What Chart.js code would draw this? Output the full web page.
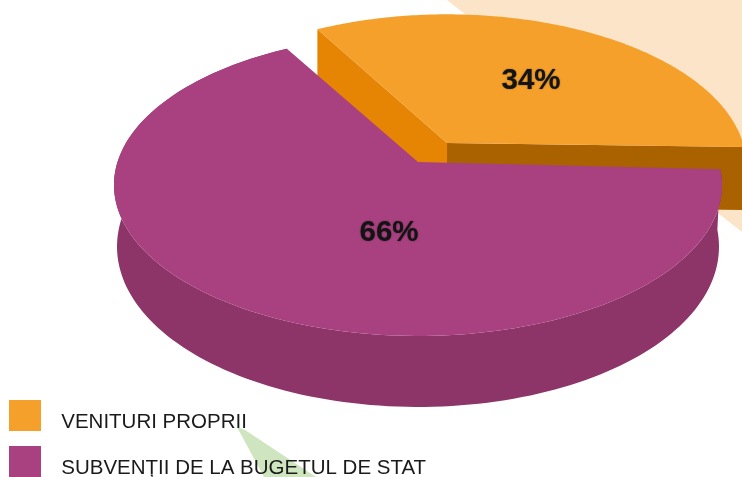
<!DOCTYPE html>
<html><head><meta charset="utf-8">
<style>html,body{margin:0;padding:0;background:#fff}canvas{display:block}</style>
<script src="https://cdn.jsdelivr.net/npm/chart.js@4"></script>
</head><body><canvas id="c" width="742" height="477"></canvas>
<script>
const categories = ['VENITURI PROPRII', 'SUBVENȚII DE LA BUGETUL DE STAT'];
const shares = [34, 66];
const topColors = ['#F5A02B', '#A94080'];

// Perspective of the disc
const P = 0.152, A = 147.5, B = 300.5;
const project = (a, cx, cy, kx, ky, bottom) => {
  const u = Math.cos(a), v = Math.sin(a), w = 1 - P * v;
  const s = bottom ? 0.99 : 1;
  return [cx + kx * s * B * u / w, cy + ky * A * v / w + (bottom ? 60 + 11 * v : 0)];
};
const rim = (ctx, a0, a1, cx, cy, kx, ky, bottom) => {
  const n = 160;
  for (let i = 0; i <= n; i++) {
    const p = project(a0 + (a1 - a0) * i / n, cx, cy, kx, ky, bottom);
    ctx.lineTo(p[0], p[1]);
  }
};
const poly = (ctx, pts, color) => {
  ctx.beginPath();
  pts.forEach(p => ctx.lineTo(p[0], p[1]));
  ctx.closePath();
  ctx.fillStyle = color;
  ctx.fill();
};

// Legend swatch: a small picture whose coloured square sits above the text line
const swatch = color => {
  const c = document.createElement('canvas');
  c.width = 42; c.height = 45;
  const g = c.getContext('2d');
  g.fillStyle = color;
  g.fillRect(0, 0, 32, 31);
  return c;
};

const backdrop = {
  id: 'backdrop',
  beforeDraw(chart) {
    const ctx = chart.ctx;
    poly(ctx, [[447,0],[742,0],[742,232]], '#FCE4C8');
    poly(ctx, [[237,427],[245,430],[316,477],[264,477]], '#CFE5BF');
  }
};

const pie3d = {
  id: 'pie3d',
  beforeDatasetsDraw(chart) {
    const ctx = chart.ctx;
    const [orange, purple] = chart.getDatasetMeta(0).data;
    const ax = 447, ay = 143, kx = 0.985, ky = 1.005;   // detached slice
    const cx = 418, cy = 162;
    const oa0 = orange.startAngle - 0.002, oa1 = orange.endAngle - 0.022;

    // detached slice: its two inner walls
    const o0 = project(oa0, ax, ay, kx, ky), o1 = project(oa1, ax, ay, kx, ky);
    const drop = 63;
    poly(ctx, [o0, [ax, ay], [ax, ay + drop], [o0[0], o0[1] + 58]], '#E68503');
    poly(ctx, [[ax, ay], o1, [o1[0], o1[1] + drop], [ax, ay + drop]], '#AA6100');
    ctx.beginPath();
    ctx.moveTo(ax, ay);
    rim(ctx, oa0, oa1, ax, ay, kx, ky);
    ctx.closePath();
    ctx.fillStyle = orange.options.backgroundColor;
    ctx.fill();

    // main slice: outer wall, then top
    ctx.beginPath();
    rim(ctx, purple.startAngle, purple.endAngle, cx, cy, 1, 1);
    rim(ctx, purple.endAngle, purple.startAngle, cx, cy, 1, 1, true);
    ctx.closePath();
    ctx.fillStyle = '#8D3569';
    ctx.fill();
    ctx.beginPath();
    ctx.moveTo(cx, cy);
    rim(ctx, purple.startAngle, purple.endAngle, cx, cy, 1, 1);
    ctx.closePath();
    ctx.fillStyle = purple.options.backgroundColor;
    ctx.fill();

    // value labels
    ctx.save();
    ctx.font = 'bold 29.5px "Liberation Sans", Arial, sans-serif';
    ctx.textAlign = 'center';
    ctx.textBaseline = 'middle';
    ctx.fillStyle = '#141414';
    ctx.shadowColor = 'rgba(20,20,20,0.6)';
    ctx.shadowBlur = 1.5;
    ctx.fillText(shares[0] + '%', 531, 81);
    ctx.fillText(shares[1] + '%', 389, 233);
    ctx.restore();
    return false;
  },
  afterLayout(chart) {
    const l = chart.legend, pad = l.options.labels.padding;
    l.left = 9 - pad; l.top = 412.25 - pad;
    l.width = 600; l.height = 200;
    l.right = l.left + l.width; l.bottom = l.top + l.height;
  }
};

new Chart(document.getElementById('c'), {
  type: 'pie',
  data: { labels: categories, datasets: [{ data: shares, backgroundColor: topColors, borderWidth: 0 }] },
  options: {
    responsive: false,
    animation: false,
    rotation: -29.6,
    layout: { padding: 0 },
    plugins: {
      tooltip: { enabled: false },
      legend: {
        position: 'chartArea',
        align: 'start',
        labels: {
          usePointStyle: true, pointStyleWidth: 42, padding: 25.5, color: '#1a1a1a',
          font: { family: '"Liberation Sans", Arial, sans-serif', size: 20.5 },
          generateLabels() {
            return categories.map((t, i) => ({
              text: t, pointStyle: swatch(topColors[i]), fontColor: '#1a1a1a',
              fillStyle: topColors[i], strokeStyle: 'rgba(0,0,0,0)', lineWidth: 0, hidden: false, index: i
            }));
          }
        }
      }
    }
  },
  plugins: [backdrop, pie3d]
});
</script></body></html>
